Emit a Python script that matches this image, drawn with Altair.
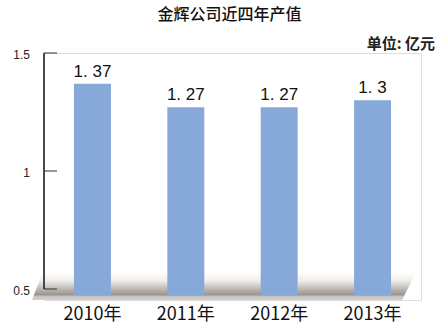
import altair as alt
import pandas as pd

years = ["2010年", "2011年", "2012年", "2013年"]
values = [1.37, 1.27, 1.27, 1.3]
tick_values = [0.5, 1, 1.5]

W, H = 377, 247
Y_DOMAIN = [0.4534, 1.5]
BAR_BASE = 0.474
TICK_LEN = 13 / W  # tick length as a fraction of plot width

df = pd.DataFrame({"year": years, "value": values})
ticks_df = pd.DataFrame({"tv": tick_values, "tx": [0.0] * 3, "tx2": [TICK_LEN] * 3})
# decorative perspective floor (fractions of plot width / value units)
floor_df = pd.DataFrame({"fy": [0.572, 0.4534], "fx": [-0.003, -0.032], "fx2": [0.987, 0.95]})

yscale = alt.Scale(domain=Y_DOMAIN, nice=False, zero=False)
fscale = alt.Scale(domain=[0, 1], nice=False, zero=False)

floor = alt.Chart(floor_df).mark_area(
    orient="horizontal",
    color=alt.Gradient(
        gradient="linear", x1=0, y1=0, x2=0, y2=1,
        stops=[
            alt.GradientStop(offset=0, color="#ffffff"),
            alt.GradientStop(offset=0.3, color="#f1efed"),
            alt.GradientStop(offset=0.82, color="#9a928c"),
            alt.GradientStop(offset=0.86, color="#c6c1bd"),
            alt.GradientStop(offset=1, color="#d6d2cf"),
        ],
    ),
).encode(
    y=alt.Y("fy:Q", scale=yscale, axis=None),
    x=alt.X("fx:Q", scale=fscale, axis=None),
    x2="fx2:Q",
)

axis_line = alt.Chart(ticks_df).mark_rule(color="#333333", strokeWidth=1).encode(
    x=alt.value(0),
    y=alt.datum(tick_values[0], scale=yscale, axis=None),
    y2=alt.datum(tick_values[-1]),
)

tick_marks = alt.Chart(ticks_df).mark_rule(color="#333333", strokeWidth=1).encode(
    x=alt.X("tx:Q", scale=fscale, axis=None),
    x2="tx2:Q",
    y=alt.Y("tv:Q", scale=yscale, axis=None),
)

tick_labels = alt.Chart(ticks_df).transform_calculate(
    lab="format(datum.tv, '.1~f')"
).mark_text(
    align="right", baseline="middle", dy=2, font="Liberation Sans",
    fontSize=12, color="#222222",
).encode(
    x=alt.value(-14),
    y=alt.Y("tv:Q", scale=yscale, axis=None),
    text="lab:N",
)

xband = alt.X("year:N", sort=years,
              scale=alt.Scale(paddingInner=0.604, paddingOuter=0.321),
              axis=alt.Axis(title=None, domain=False, ticks=False, labelAngle=0,
                            labelPadding=5, labelFont="Noto Sans CJK SC",
                            labelFontSize=18, labelColor="#111111"))

bars = alt.Chart(df).mark_bar(color="#87a9d9").encode(
    x=xband,
    y=alt.Y("value:Q", scale=yscale, axis=None),
    y2=alt.datum(BAR_BASE),
)

labels = alt.Chart(df).transform_calculate(
    lbl="replace(format(datum.value, '.2~f'), '.', '. ')"
).mark_text(baseline="bottom", dy=-3, font="Liberation Sans", fontSize=17, color="#111111").encode(
    x=xband,
    y=alt.Y("value:Q", scale=yscale, axis=None),
    text="lbl:N",
)

unit = alt.Chart(df).transform_filter("datum.year == '2010年'").mark_text(
    align="right", baseline="middle", font="Noto Sans CJK SC", fontSize=15,
    fontWeight="bold", color="#222222",
).encode(
    x=alt.value(W + 14),
    y=alt.value(-9),
    text=alt.value("单位: 亿元"),
)

bar_layer = alt.layer(bars, labels)

chart = alt.layer(floor, axis_line, tick_marks, tick_labels, bar_layer, unit).resolve_scale(
    x="independent"
).properties(
    width=W,
    height=H,
    autosize="none",
    padding={"left": 44, "top": 53, "right": 20, "bottom": 28},
    title=alt.TitleParams("金辉公司近四年产值", font="Noto Sans CJK SC", fontSize=16,
                          fontWeight=500, color="#111111", anchor="middle",
                          offset=14, dx=-3),
).configure_view(stroke=None).configure(background="white")

chart.save("out.html", embed_options={"renderer": "svg", "actions": False})
